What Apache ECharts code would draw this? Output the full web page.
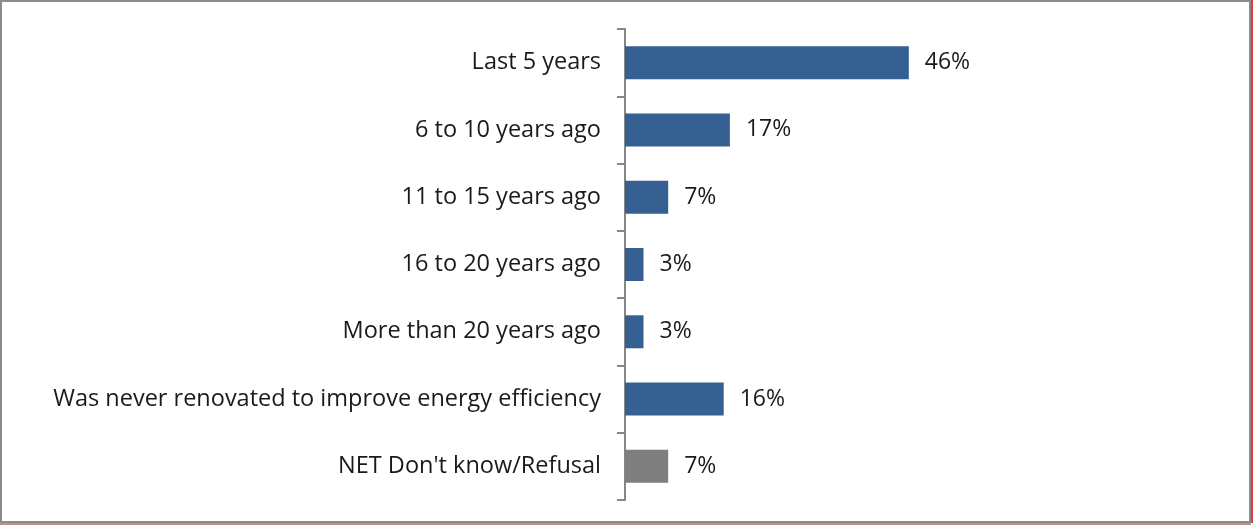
<!DOCTYPE html>
<html lang="en">
<head>
    <meta charset="UTF-8">
    <title>Renovation</title>
    <script src="https://cdn.jsdelivr.net/npm/echarts@6/dist/echarts.min.js"></script>
    <style>
        html, body { margin: 0; padding: 0; background: #fff; }
        #main {
            position: absolute; left: 0; top: 0;
            width: 1247px; height: 519px;
            border: 2px solid #8c8c8c;
            box-shadow: 2px 0 0 #e03a3a, 0 2px 0 #c09090;
        }
    </style>
</head>
<body>
<div id="main"></div>
<script type="text/javascript">
    var categories = ['Last 5 years', '6 to 10 years ago', '11 to 15 years ago', '16 to 20 years ago',
        'More than 20 years ago', 'Was never renovated to improve energy efficiency', "NET Don't know/Refusal"];
    var values = [46, 17, 7, 3, 3, 16, 7];
    var barColors = ['#376092', '#376092', '#376092', '#376092', '#376092', '#376092', '#7f7f7f'];

    var myChart = echarts.init(document.getElementById('main'));
    var option = {
        animation: false,
        textStyle: {fontFamily: 'Open Sans'},
        grid: {left: 623, right: 7, top: 27, bottom: 21},
        xAxis: {type: 'value', min: 0, max: 100, show: false},
        yAxis: {
            type: 'category',
            inverse: true,
            data: categories,
            axisLine: {lineStyle: {color: '#868686', width: 2}},
            axisTick: {show: true, length: 8, lineStyle: {color: '#868686', width: 2}},
            axisLabel: {color: '#1a1a1a', fontSize: 23.5, margin: 24}
        },
        series: [{
            type: 'bar',
            barCategoryGap: '51%',
            data: values.map(function (v, i) {
                return {value: v, itemStyle: {color: barColors[i]}};
            }),
            label: {
                show: true,
                position: 'right',
                distance: 16,
                color: '#1a1a1a',
                fontSize: 23,
                formatter: '{c}%'
            }
        }]
    };
    myChart.setOption(option);
</script>
</body>
</html>
